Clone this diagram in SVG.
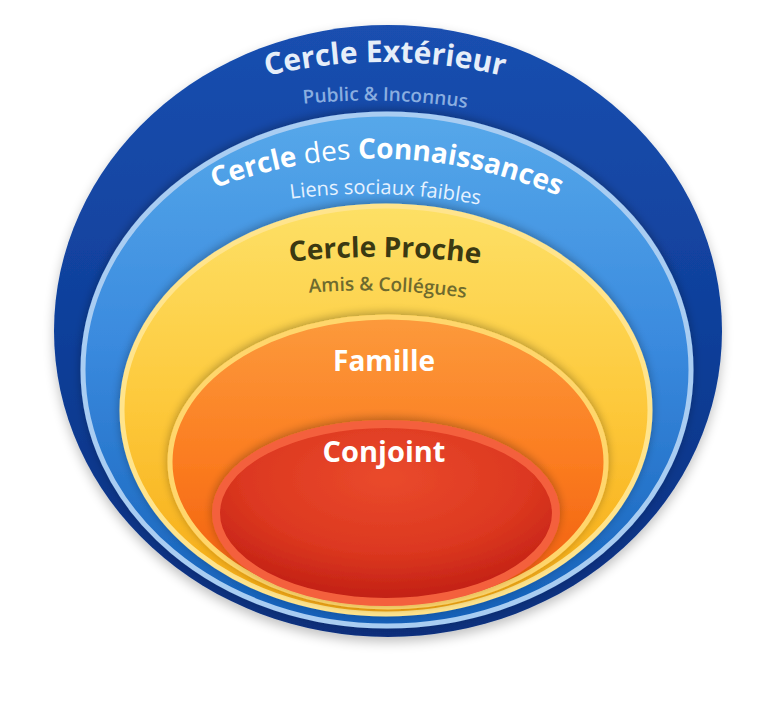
<svg xmlns="http://www.w3.org/2000/svg" width="768" height="704" viewBox="0 0 768 704">
  <defs>
    <linearGradient id="gOuter" x1="0" y1="0" x2="0" y2="1">
      <stop offset="0" stop-color="#1a4fb0"/>
      <stop offset="0.5" stop-color="#0f3f9a"/>
      <stop offset="1" stop-color="#0a2f7c"/>
    </linearGradient>
    <linearGradient id="gBlue" x1="0" y1="0" x2="0" y2="1">
      <stop offset="0" stop-color="#56a8ea"/>
      <stop offset="0.45" stop-color="#3a8ade"/>
      <stop offset="1" stop-color="#1460b8"/>
    </linearGradient>
    <linearGradient id="gYellow" x1="0" y1="0" x2="0" y2="1">
      <stop offset="0" stop-color="#fde066"/>
      <stop offset="0.5" stop-color="#fdc83a"/>
      <stop offset="1" stop-color="#f5a812"/>
    </linearGradient>
    <linearGradient id="gOrange" x1="0" y1="0" x2="0" y2="1">
      <stop offset="0" stop-color="#fc9a3c"/>
      <stop offset="0.5" stop-color="#fb7c20"/>
      <stop offset="1" stop-color="#ef5a0c"/>
    </linearGradient>
    <radialGradient id="gRed" cx="0.5" cy="0.3" r="0.7">
      <stop offset="0" stop-color="#ea4a2c"/>
      <stop offset="0.6" stop-color="#dc3820"/>
      <stop offset="1" stop-color="#c01e14"/>
    </radialGradient>
    <filter id="shadow" x="-10%" y="-10%" width="120%" height="125%">
      <feGaussianBlur in="SourceAlpha" stdDeviation="6"/>
      <feOffset dy="5"/>
      <feComponentTransfer><feFuncA type="linear" slope="0.25"/></feComponentTransfer>
      <feMerge><feMergeNode/><feMergeNode in="SourceGraphic"/></feMerge>
    </filter>
    <filter id="inner" x="-10%" y="-10%" width="120%" height="125%">
      <feGaussianBlur in="SourceAlpha" stdDeviation="5"/>
      <feOffset dy="-2"/>
      <feComponentTransfer><feFuncA type="linear" slope="0.3"/></feComponentTransfer>
      <feMerge><feMergeNode/><feMergeNode in="SourceGraphic"/></feMerge>
    </filter>
    <path id="arc1" d="M 250 80 Q 385 44 520 80"/>
    <path id="arc2" d="M 285 106 Q 385 93 485 111"/>
    <path id="arc3" d="M 205 192 Q 385 121 568 200"/>
    <path id="arc4" d="M 275 201 Q 385 184 495 208"/>
    <path id="arc5" d="M 280 263 Q 385 250 490 265"/>
    <path id="arc6" d="M 295 294 Q 385 285 480 300"/>
    <style>
      .t { font-family: "Open Sans", "Liberation Sans", sans-serif; }
      .b { font-weight: 700; }
      .sb { font-weight: 600; }
      .r { font-weight: 400; }
    </style>
  </defs>
  <rect width="768" height="704" fill="#ffffff"/>

  <g id="outer">
    <ellipse cx="388" cy="331" rx="334" ry="306" fill="url(#gOuter)" filter="url(#shadow)"/>
    <text class="t b" font-size="30" fill="#e6eef9"><textPath href="#arc1" startOffset="50%" text-anchor="middle">Cercle Extérieur</textPath></text>
    <text class="t sb" font-size="19" fill="#8aaee0"><textPath href="#arc2" startOffset="50%" text-anchor="middle">Public &amp; Inconnus</textPath></text>
  </g>

  <g id="connaissances">
    <ellipse cx="387" cy="370" rx="304" ry="256" fill="url(#gBlue)" stroke="#a9cdf2" stroke-width="5" filter="url(#inner)"/>
    <text class="t" font-size="28" fill="#ffffff"><textPath href="#arc3" startOffset="50%" text-anchor="middle"><tspan class="b">Cercle</tspan><tspan class="r"> des </tspan><tspan class="b">Connaissances</tspan></textPath></text>
    <text class="t r" font-size="20" fill="#e6f2ff"><textPath href="#arc4" startOffset="50%" text-anchor="middle">Liens sociaux faibles</textPath></text>
  </g>

  <g id="proche">
    <ellipse cx="386" cy="410" rx="264" ry="204" fill="url(#gYellow)" stroke="#ffe48c" stroke-width="5" filter="url(#inner)"/>
    <text class="t b" font-size="28" fill="#3b3912"><textPath href="#arc5" startOffset="50%" text-anchor="middle">Cercle Proche</textPath></text>
    <text class="t sb" font-size="19" fill="#6e6a2e"><textPath href="#arc6" startOffset="50%" text-anchor="middle">Amis &amp; Collégues</textPath></text>
  </g>

  <g id="famille">
    <ellipse cx="388" cy="462" rx="218" ry="145" fill="url(#gOrange)" stroke="#ffd66c" stroke-width="5" filter="url(#inner)"/>
    <text class="t b" x="384" y="371" font-size="28" fill="#ffffff" text-anchor="middle">Famille</text>
  </g>

  <g id="conjoint">
    <ellipse cx="386" cy="513" rx="170" ry="89" fill="url(#gRed)" stroke="#f4603e" stroke-width="8" filter="url(#inner)"/>
    <text class="t b" x="384" y="462" font-size="29" fill="#ffffff" text-anchor="middle">Conjoint</text>
  </g>

  <g id="connectors"/>
</svg>
